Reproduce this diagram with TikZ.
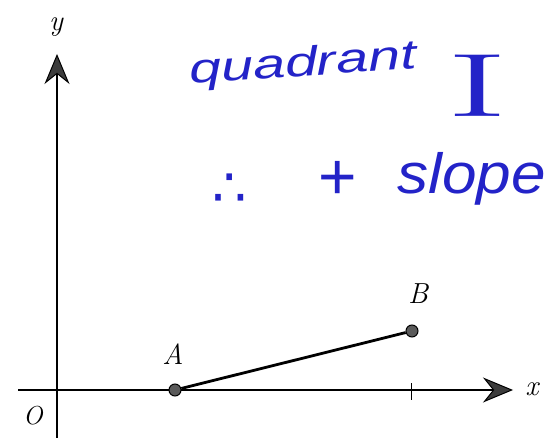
\documentclass[tikz,border=0pt]{standalone}
\usepackage{fontspec}
\newfontfamily\hand{Liberation Sans}
\newfontfamily\symf{DejaVu Sans}
\newfontfamily\thinI{Liberation Sans}
\setmainfont{Latin Modern Roman}
\usetikzlibrary{arrows.meta}
\definecolor{ink}{RGB}{35,35,200}
\definecolor{dotgray}{RGB}{90,90,90}
\definecolor{tipgray}{RGB}{60,60,60}
\tikzset{
  axis/.style={line width=1.9pt, -{Stealth[length=30pt,width=25pt,inset=10pt,fill=tipgray,line width=1pt]}},
  pt/.style={circle, draw=black, fill=dotgray, line width=1pt, minimum size=12pt, inner sep=0pt},
  lbl/.style={font=\itshape\fontsize{29}{34}\selectfont, inner sep=0pt},
  handw/.style={font=\hand\itshape\fontsize{36}{42}\selectfont, text=ink, inner sep=0pt, anchor=base west}
}
\begin{document}
\begin{tikzpicture}[x=1pt,y=-1pt]
\useasboundingbox (0,0) rectangle (551,438);
\coordinate (xs) at (18,390);
\coordinate (xe) at (513,390);
\coordinate (ys) at (57,438);
\coordinate (ye) at (57,54);
\draw[axis] (xs) -- (xe);
\draw[axis] (ys) -- (ye);
\node[lbl] (ylab) at (56,27) {y};
\node[lbl] (xlab) at (532,389) {x};
\node[lbl, font=\itshape\fontsize{26}{30}\selectfont] (olab) at (33,416) {O};
\node[pt] (A) at (175,390) {};
\node[pt] (B) at (412,331) {};
\draw[line width=2.8pt] (A) -- (B);
\node[lbl] (alab) at (173,354) {A};
\node[lbl] (blab) at (418,294) {B};
\coordinate (t1) at (411,383);
\coordinate (t2) at (411,400);
\draw[line width=0.8pt] (t1) -- (t2);
\node[handw, rotate=4] (q) at (190,84) {\scalebox{1.6}[1.15]{quadrant}};
\node[font=\fontsize{90}{100}\selectfont, text=ink, inner sep=0pt, anchor=base west] (one) at (446,117) {\scalebox{2.1}[1]{I}};
\node[handw, font=\hand\itshape\fontsize{54}{60}\selectfont] (s) at (212,194) {\makebox[105pt][l]{\raisebox{-13pt}{\symf ∴}}\makebox[80pt][l]{\raisebox{-6pt}{\fontsize{66}{70}\selectfont +}}\scalebox{1.15}[1.05]{slope}};
\end{tikzpicture}
\end{document}
